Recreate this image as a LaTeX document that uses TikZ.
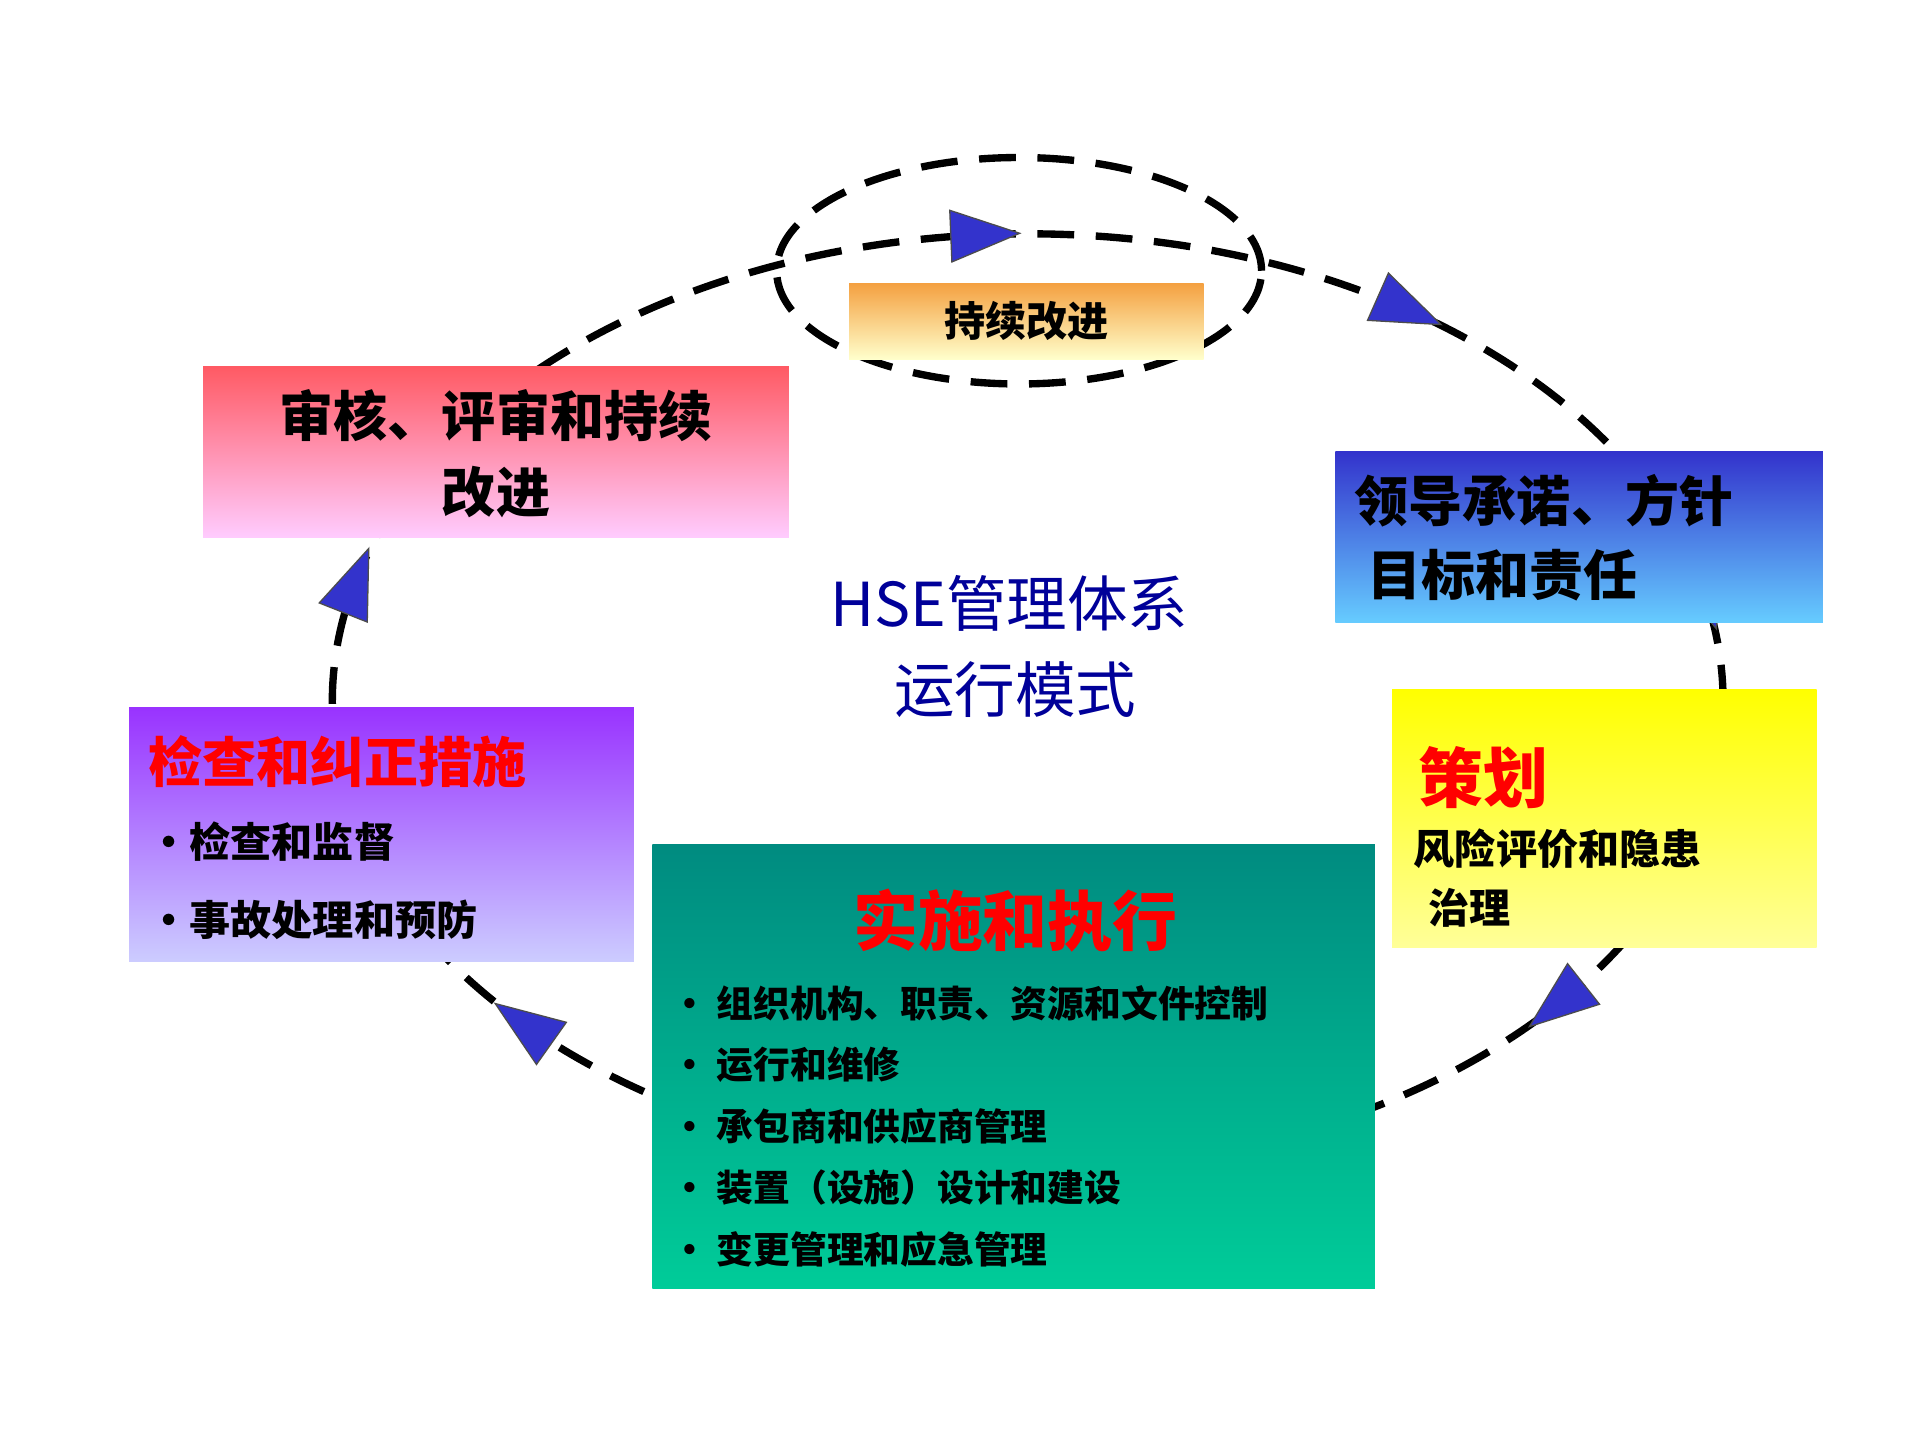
\documentclass[tikz,border=0pt]{standalone}
\usepackage{fontspec}
\setmainfont{Noto Sans CJK SC}
\begin{document}
\begin{tikzpicture}[
  dashline/.style={line width=1.7pt, dash pattern=on 8.5pt off 5pt},
  box/.style={draw=none, inner sep=0pt, anchor=center},
  txt/.style={inner sep=0pt, font=\bfseries},
  lft/.style={txt, anchor=west},
]
\useasboundingbox (0,0) rectangle (15.6,11.7);
\fill[white] (0,0) rectangle (15.6,11.7);
\definecolor{arrowblue}{HTML}{3333CC}
% big loop
\draw[dashline] (8.35,6.0) ellipse [x radius=5.65, y radius=3.8];
% small loop
\draw[dashline] (8.28,9.50) ellipse [x radius=1.97, y radius=0.92];
% arrowheads
\foreach \t in {93.5,56.7,13,-40.5,223.5,165}{
  \pgfmathsetmacro{\px}{8.35+5.65*cos(\t)}
  \pgfmathsetmacro{\py}{6.0+3.8*sin(\t)}
  \pgfmathsetmacro{\ang}{atan2(-3.8*cos(\t),5.65*sin(\t))}
  \filldraw[fill=arrowblue, draw=black!70, line width=0.3pt, shift={(\px,\py)}, rotate=\ang]
    (0.28,0) -- (-0.28,0.21) -- (-0.28,-0.21) -- cycle;
}
% boxes
\node[box, top color={rgb,255:red,244;green,160;blue,64}, bottom color={rgb,255:red,255;green,255;blue,204}, minimum width=2.88cm, minimum height=0.62cm] (small) at (8.34,9.09) {};
\node[box, top color={rgb,255:red,255;green,90;blue,100}, bottom color={rgb,255:red,255;green,204;blue,255}, minimum width=4.76cm, minimum height=1.39cm] (pink) at (4.03,8.025) {};
\node[box, top color={rgb,255:red,51;green,51;blue,204}, bottom color={rgb,255:red,102;green,204;blue,255}, minimum width=3.96cm, minimum height=1.39cm] (blue) at (12.83,7.335) {};
\node[box, top color={rgb,255:red,255;green,255;blue,0}, bottom color={rgb,255:red,255;green,255;blue,153}, minimum width=3.45cm, minimum height=2.10cm] (yellow) at (13.035,5.05) {};
\node[box, top color={rgb,255:red,153;green,51;blue,255}, bottom color={rgb,255:red,204;green,204;blue,255}, minimum width=4.10cm, minimum height=2.06cm] (purple) at (3.10,4.92) {};
\node[box, top color={rgb,255:red,0;green,139;blue,128}, bottom color={rgb,255:red,0;green,204;blue,153}, minimum width=5.87cm, minimum height=3.61cm] (teal) at (8.235,3.035) {};
% texts
\node[txt, font=\bfseries\fontsize{9.5}{11}\selectfont] (t1) at (8.34,9.09) {持续改进};
\node[txt, font=\bfseries\fontsize{12.5}{14}\selectfont] (t2) at (4.03,8.32) {审核、评审和持续};
\node[txt, font=\bfseries\fontsize{12.5}{14}\selectfont] (t3) at (4.03,7.70) {改进};
\node[lft, font=\bfseries\fontsize{12.5}{14}\selectfont] (t4) at (11.0,7.63) {领导承诺、方针};
\node[lft, font=\bfseries\fontsize{12.5}{14}\selectfont] (t5) at (11.1,7.03) {目标和责任};
\node[lft, font=\bfseries\fontsize{15}{17}\selectfont, text=red] (t6) at (11.52,5.38) {策划};
\node[lft, font=\bfseries\fontsize{9.5}{11}\selectfont] (t7) at (11.48,4.80) {风险评价和隐患};
\node[lft, font=\bfseries\fontsize{9.5}{11}\selectfont] (t8) at (11.60,4.32) {治理};
\node[lft, font=\bfseries\fontsize{12.5}{14}\selectfont, text=red] (t9) at (1.2,5.51) {检查和纠正措施};
\node[lft, font=\bfseries\fontsize{9.5}{11}\selectfont] (t10) at (1.2,4.86) {•检查和监督};
\node[lft, font=\bfseries\fontsize{9.5}{11}\selectfont] (t11) at (1.2,4.23) {•事故处理和预防};
\node[txt, font=\bfseries\fontsize{15}{17}\selectfont, text=red] (t12) at (8.25,4.22) {实施和执行};
\foreach \y/\s [count=\i] in {3.55/组织机构、职责、资源和文件控制, 3.05/运行和维修, 2.55/承包商和供应商管理, 2.05/装置（设施）设计和建设, 1.55/变更管理和应急管理}{
  \node[lft, font=\bfseries\fontsize{8.5}{10}\selectfont] (b\i) at (5.45,\y) {• \s};
}
\node[inner sep=0pt, font=\fontsize{14}{16}\selectfont, text={rgb,255:red,0;green,0;blue,153}] (c1) at (8.2,6.80) {HSE管理体系};
\node[inner sep=0pt, font=\fontsize{14}{16}\selectfont, text={rgb,255:red,0;green,0;blue,153}] (c2) at (8.25,6.10) {运行模式};
\end{tikzpicture}
\end{document}
